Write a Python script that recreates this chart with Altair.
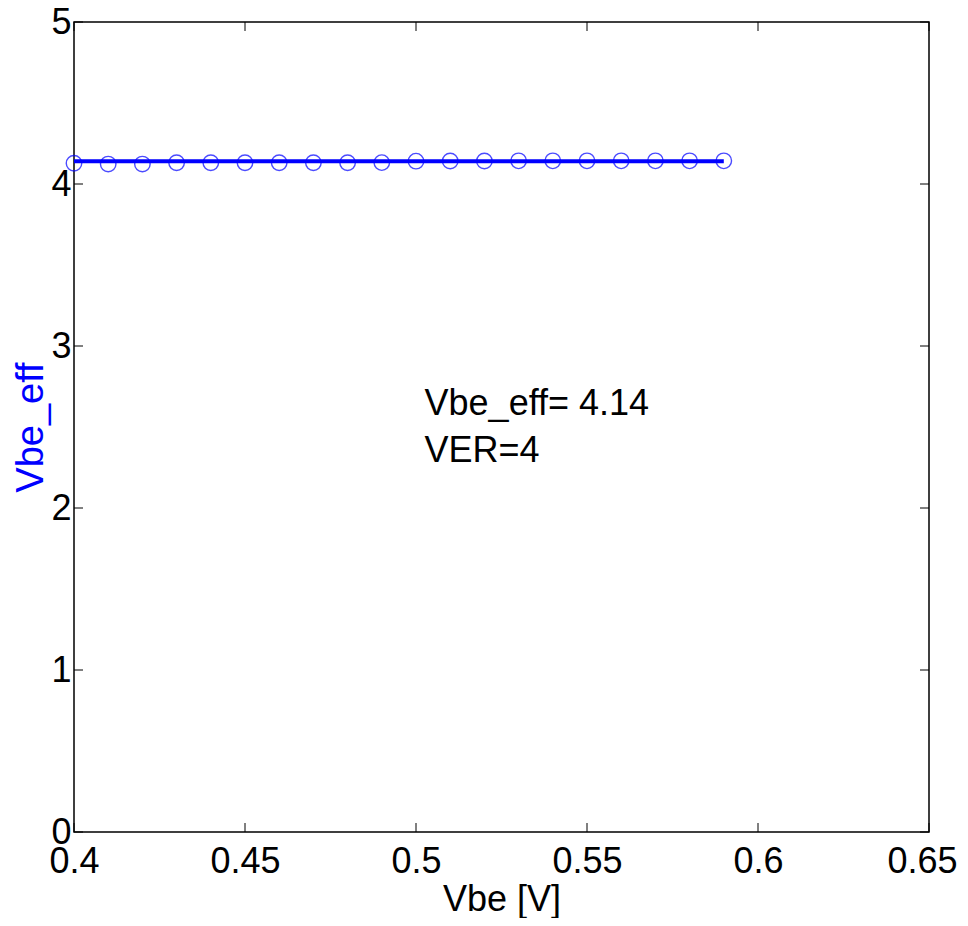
import altair as alt
import pandas as pd

vbe = [0.40, 0.41, 0.42, 0.43, 0.44, 0.45, 0.46, 0.47, 0.48, 0.49,
       0.50, 0.51, 0.52, 0.53, 0.54, 0.55, 0.56, 0.57, 0.58, 0.59]
vbe_eff = [4.128, 4.123, 4.123, 4.131, 4.131, 4.131, 4.131, 4.131, 4.131, 4.132,
           4.141, 4.142, 4.142, 4.143, 4.143, 4.143, 4.143, 4.143, 4.143, 4.143]
fit_x = [0.40, 0.59]
fit_y = [4.14, 4.14]
x_ticks = [0.40, 0.45, 0.50, 0.55, 0.60, 0.65]
y_ticks = [0, 1, 2, 3, 4, 5]
notes = ["Vbe_eff= 4.14", "VER=4"]
note_x = [0.5025, 0.5025]
note_y = [2.64, 2.35]

W, H = 855, 810
FONT = "Liberation Sans"

pts = pd.DataFrame({"x": vbe, "y": vbe_eff})
fit = pd.DataFrame({"x": fit_x, "y": fit_y})
xt = pd.DataFrame({"v": x_ticks})
yt = pd.DataFrame({"v": y_ticks})
txt = pd.DataFrame({"x": note_x, "y": note_y, "t": notes})

xscale = alt.Scale(domain=[0.4, 0.65], nice=False, zero=False)
yscale = alt.Scale(domain=[0, 5], nice=False, zero=False)

xax = alt.Axis(values=x_ticks, format=".2~f", tickSize=0, grid=False, domain=False,
               labelFont=FONT, labelFontSize=36, labelColor="black", labelPadding=12,
               labelFlush=False, labelOverlap=False,
               labelOffset={"condition": {"test": "datum.value > 0.64", "value": -7}, "value": 0},
               title="Vbe [V]", titleFont=FONT, titleFontSize=36, titleFontWeight="normal",
               titleColor="black", titlePadding=3)
yax = alt.Axis(values=y_ticks, format="d", tickSize=0, grid=False, domain=False,
               labelFont=FONT, labelFontSize=36, labelColor="black", labelPadding=3,
               labelFlush=False, labelOverlap=False,
               title="Vbe_eff", titleFont=FONT, titleFontSize=38, titleFontWeight="normal",
               titleColor="#0000ff", titlePadding=0)

line = alt.Chart(fit).mark_line(color="#0000ff", strokeWidth=4).encode(
    x=alt.X("x:Q", scale=xscale, axis=xax),
    y=alt.Y("y:Q", scale=yscale, axis=yax),
)
markers = alt.Chart(pts).mark_point(shape="circle", filled=False, color="#0000ff",
                                    size=240, strokeWidth=1.4).encode(
    x=alt.X("x:Q", scale=xscale), y=alt.Y("y:Q", scale=yscale))

tick_len = 9
xb = alt.Chart(xt).mark_rule(color="black", strokeWidth=1).encode(
    x=alt.X("v:Q", scale=xscale), y=alt.value(H), y2=alt.value(H - tick_len))
xtop = alt.Chart(xt).mark_rule(color="black", strokeWidth=1).encode(
    x=alt.X("v:Q", scale=xscale), y=alt.value(0), y2=alt.value(tick_len))
yl = alt.Chart(yt).mark_rule(color="black", strokeWidth=1).encode(
    y=alt.Y("v:Q", scale=yscale), x=alt.value(0), x2=alt.value(tick_len))
yr = alt.Chart(yt).mark_rule(color="black", strokeWidth=1).encode(
    y=alt.Y("v:Q", scale=yscale), x=alt.value(W), x2=alt.value(W - tick_len))

text = alt.Chart(txt).mark_text(align="left", baseline="middle", font=FONT,
                                fontSize=36, color="black").encode(
    x=alt.X("x:Q", scale=xscale), y=alt.Y("y:Q", scale=yscale), text="t:N")

chart = alt.layer(xb, xtop, yl, yr, line, markers, text).properties(
    width=W, height=H,
    autosize=alt.AutoSizeParams(type="none"),
    padding={"left": 66, "top": 14, "right": 30, "bottom": 86},
    background="white",
).configure_view(stroke="black", strokeWidth=1.5)

chart.save("out.html", embed_options={"renderer": "svg", "actions": False})
